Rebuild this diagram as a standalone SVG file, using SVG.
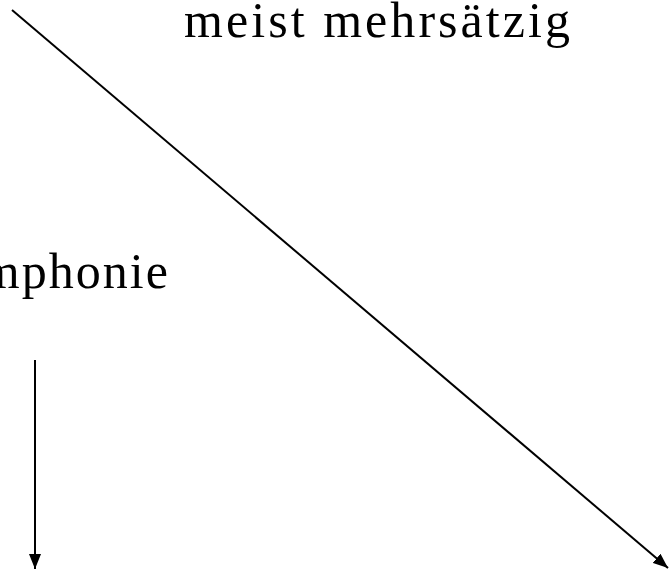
<svg xmlns="http://www.w3.org/2000/svg" width="670" height="571" viewBox="0 0 670 571">
<style>
.lbl{font-family:"Liberation Serif","Times New Roman",serif;font-size:50px;fill:#000}
.conn{stroke:#000;stroke-width:2;fill:none}
</style>
<defs>
<marker id="ah" markerWidth="15" markerHeight="12" refX="15" refY="6" orient="auto" markerUnits="userSpaceOnUse">
<path d="M0,0 L15,6 L0,12 Z" fill="#000"/>
</marker>
</defs>
<rect width="670" height="571" fill="#fff"/>
<g id="node-mehrsaetzig"><text class="lbl" x="184" y="37" textLength="386" lengthAdjust="spacing">meist mehrsätzig</text></g>
<g id="node-symphonie"><text class="lbl" x="-76" y="288" textLength="244" lengthAdjust="spacing">Symphonie</text></g>
<g id="connectors">
<line class="conn" x1="12" y1="10" x2="668" y2="568" marker-end="url(#ah)"/>
<line class="conn" x1="35" y1="360" x2="35" y2="569" marker-end="url(#ah)"/>
</g>
</svg>
